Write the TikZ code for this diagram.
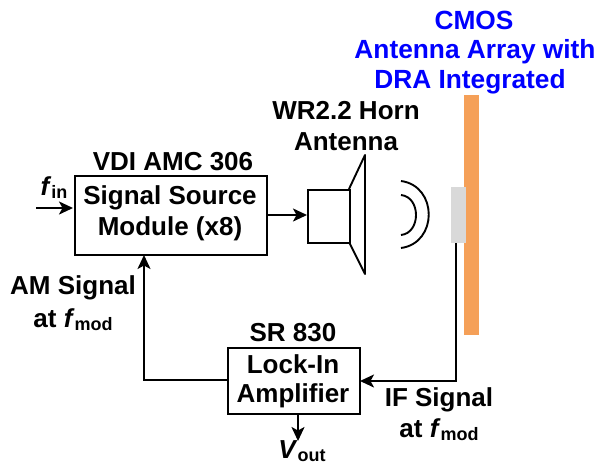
\documentclass[tikz,border=0pt]{standalone}
\usepackage{fontspec}
\setmainfont{Liberation Sans}
\usetikzlibrary{arrows.meta}
\newcommand{\fs}[1]{\fontsize{#1}{#1}\selectfont\bfseries}
\tikzset{
  x=1pt,y=-1pt,
  line/.style={line width=1.9pt,black},
  arr/.style={line,-{Stealth[length=14pt,width=13pt,inset=3.5pt]}},
  boxn/.style={draw=black,line width=1.9pt,inner sep=0pt,anchor=north west},
  lbl/.style={inner sep=0pt,align=center,text=black,font=\fs{26}},
  wave/.style={line width=1.9pt,black},
  blue/.style={inner sep=0pt,text={rgb,255:red,0;green,0;blue,255},font=\fs{26.3}},
}
\begin{document}
\begin{tikzpicture}
\useasboundingbox (0,0) rectangle (596,464);
% chip
\fill[fill={rgb,255:red,245;green,160;blue,88}] (464,95) rectangle (479,335);
\node[fill={rgb,255:red,217;green,217;blue,217},inner sep=0pt,minimum width=15pt,minimum height=56pt,anchor=north west] (dra) at (451,187) {};
% blocks
\node[boxn,minimum width=192pt,minimum height=79pt] (src) at (74,175) {};
\node[boxn,minimum width=132pt,minimum height=66pt] (lia) at (227,347) {};
\node[boxn,minimum width=42pt,minimum height=53pt] (wg) at (307,189) {};
\draw[line,line join=round] (349,189) -- (365,155) -- (365,274) -- (349,242);
% waves
\draw[wave] (401,181) .. controls (438,186) and (438,243) .. (401,248);
\draw[wave] (401,195) .. controls (421,197) and (421,233) .. (401,235);
% connectors
\coordinate (fi) at (36,208);
\coordinate (vo) at (298,441);
\draw[arr] (fi) -- (73,208);
\draw[arr] (src.east |- 0,215) -- (wg.west |- 0,215);
\draw[arr] (lia.west |- 0,380) -- (144,380) -- (144,255);
\draw[arr] (dra.south -| 456,0) -- (456,381) -- (360,381);
\draw[arr] (vo |- lia.south) -- (vo);
% texts
\node[lbl] (t1) at (170,198) {Signal Source};
\node[lbl] (t2) at (170,229) {Module (x8)};
\node[lbl] (t3) at (173,162) {VDI AMC 306};
\node[lbl] (t4) at (293,364) {Lock-In};
\node[lbl] (t5) at (293,396) {Amplifier};
\node[lbl] (t6) at (293,333) {SR 830};
\node[lbl] (t7) at (346,111) {WR2.2 Horn};
\node[lbl] (t8) at (346,142) {Antenna};
\node[lbl] (t9) at (73,288) {AM Signal};
\node[lbl,anchor=base] (t10) at (73,327) {at \textit{f}\fs{18}\raisebox{-3pt}{mod}};
\node[lbl,anchor=base] (t11) at (439,406) {IF Signal};
\node[lbl,anchor=base] (t12) at (439,437) {at \textit{f}\fs{18}\raisebox{-3pt}{mod}};
\node[lbl,anchor=base] (t13) at (54,195) {\textit{f}\fs{18}\raisebox{-3pt}{in}};
\node[lbl,anchor=base] (t14) at (302,458) {\textit{V}\fs{18}\raisebox{-3pt}{out}};
\node[blue] (t15) at (474,20) {CMOS};
\node[blue] (t16) at (475,52) {Antenna Array with};
\node[blue] (t17) at (470,82) {DRA Integrated};
\end{tikzpicture}
\end{document}
